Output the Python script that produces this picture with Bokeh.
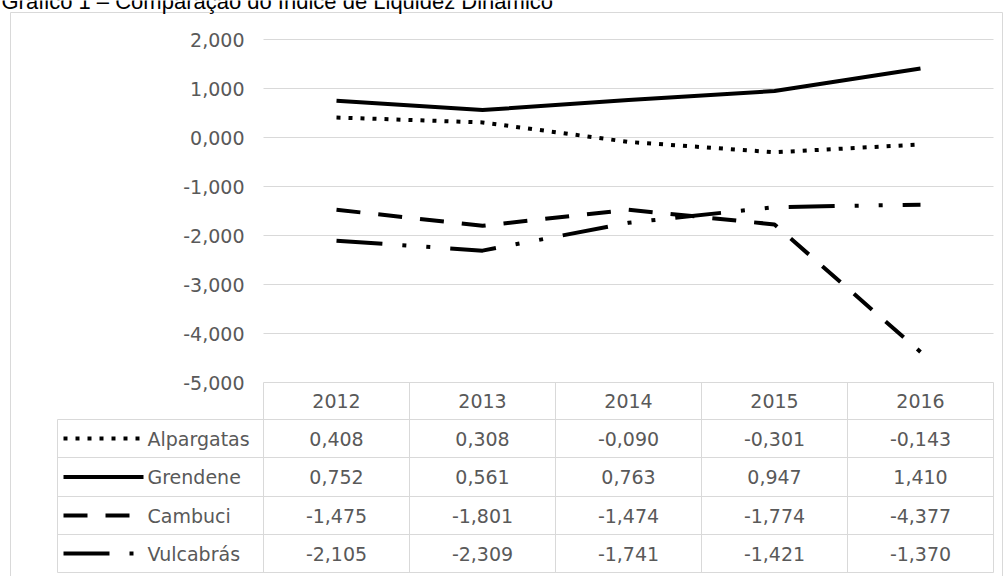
from bokeh.plotting import figure
from bokeh.models import Range1d, ColumnDataSource
from bokeh.core.properties import value
from bokeh.embed import file_html
from bokeh.resources import INLINE

# ---------------- data ----------------
title_text = "Gráfico 1 – Comparação do Índice de Liquidez Dinâmico"
years = ["2012", "2013", "2014", "2015", "2016"]
alpargatas = [0.408, 0.308, -0.090, -0.301, -0.143]
grendene = [0.752, 0.561, 0.763, 0.947, 1.410]
cambuci = [-1.475, -1.801, -1.474, -1.774, -4.377]
vulcabras = [-2.105, -2.309, -1.741, -1.421, -1.370]
series_names = ["Alpargatas", "Grendene", "Cambuci", "Vulcabrás"]
y_ticks = [2, 1, 0, -1, -2, -3, -4, -5]

series_values = [alpargatas, grendene, cambuci, vulcabras]
dashes = ["4 8", "solid", "24 18", "46 20 4 20 4 20"]

# ---------------- layout helpers (page pixels -> data) ----------------
W, H = 1008, 576
COL_PX = 146.0      # pixels per category column
UNIT_PX = 49.0      # pixels per y unit
X0_PX = 336.0       # page x of first category centre
Y0_PX = 137.0       # page y of value 0


def dx(px):
    return (px - X0_PX) / COL_PX


def dy(py):
    return (Y0_PX - py) / UNIT_PX


FONT = value("DejaVu Sans")
TXT_COLOR = "#595959"
GRID_COLOR = "#d9d9d9"
FS = "19px"

p = figure(width=W, height=H,
           x_range=Range1d(dx(0), dx(W)), y_range=Range1d(dy(H), dy(0)),
           x_axis_type=None, y_axis_type=None,
           output_backend="svg", toolbar_location=None,
           min_border=0)
p.outline_line_color = None
p.background_fill_color = "white"
p.border_fill_color = "white"

# outer chart border
p.quad(left=[dx(10)], right=[dx(1002)], top=[dy(12)], bottom=[dy(600)],
       fill_color=None, line_color=GRID_COLOR, line_width=1)

# title (partially cut at top as in the reference)
p.text(x=[dx(1)], y=[dy(1)], text=[title_text], text_font=value("Liberation Sans"),
       text_font_size="22px", text_color="black", text_baseline="alphabetic", text_align="left")

n = len(years)
xs = list(range(n))
plot_left, plot_right = -0.5, n - 0.5

# horizontal grid lines (above the table top)
grid_vals = [t for t in y_ticks if t > min(y_ticks)]
p.segment(x0=[plot_left] * len(grid_vals), x1=[plot_right] * len(grid_vals),
          y0=grid_vals, y1=grid_vals, line_color=GRID_COLOR, line_width=1)

# y tick labels
tick_labels = [f"{t:,.3f}".replace(",", "X").replace(".", ",").replace("X", ".") for t in y_ticks]
p.text(x=[dx(244)] * len(y_ticks), y=y_ticks, text=tick_labels, text_font=FONT,
       text_font_size=FS, text_color=TXT_COLOR, text_align="right", text_baseline="middle")

# ---------------- data table ----------------
row_bounds_px = [382, 419, 457, 496, 534, 572]
rb = [dy(v) for v in row_bounds_px]
table_top = min(y_ticks)
rb[0] = table_top
key_left_px = 57

# vertical lines of value columns
vx = [plot_left + i for i in range(n + 1)]
p.segment(x0=vx, x1=vx, y0=[rb[0]] * len(vx), y1=[rb[-1]] * len(vx),
          line_color=GRID_COLOR, line_width=1)
# legend column left border
p.segment(x0=[dx(key_left_px)], x1=[dx(key_left_px)], y0=[rb[1]], y1=[rb[-1]],
          line_color=GRID_COLOR, line_width=1)
# horizontal lines
p.segment(x0=[plot_left], x1=[plot_right], y0=[rb[0]], y1=[rb[0]],
          line_color=GRID_COLOR, line_width=1)
p.segment(x0=[dx(key_left_px)] * (len(rb) - 1), x1=[plot_right] * (len(rb) - 1),
          y0=rb[1:], y1=rb[1:], line_color=GRID_COLOR, line_width=1)

# header years
hy = (rb[0] + rb[1]) / 2
p.text(x=xs, y=[hy] * n, text=years, text_font=FONT, text_font_size=FS,
       text_color=TXT_COLOR, text_align="center", text_baseline="middle")

for k, (name, vals, dash) in enumerate(zip(series_names, series_values, dashes)):
    cy = (rb[k + 1] + rb[k + 2]) / 2
    labels = [f"{v:.3f}".replace(".", ",") for v in vals]
    p.text(x=xs, y=[cy] * n, text=labels, text_font=FONT, text_font_size=FS,
           text_color=TXT_COLOR, text_align="center", text_baseline="middle")
    # legend key + name
    p.line(x=[dx(63), dx(143)], y=[cy, cy], line_color="black", line_width=4,
           line_dash=dash)
    p.text(x=[dx(147)], y=[cy], text=[name], text_font=FONT, text_font_size=FS,
           text_color=TXT_COLOR, text_align="left", text_baseline="middle")
    # series line
    src = ColumnDataSource(dict(x=xs, y=vals))
    p.line(x="x", y="y", source=src, line_color="black", line_width=4,
           line_dash=dash, line_join="round")

open("out.html", "w").write(file_html(p, INLINE))
